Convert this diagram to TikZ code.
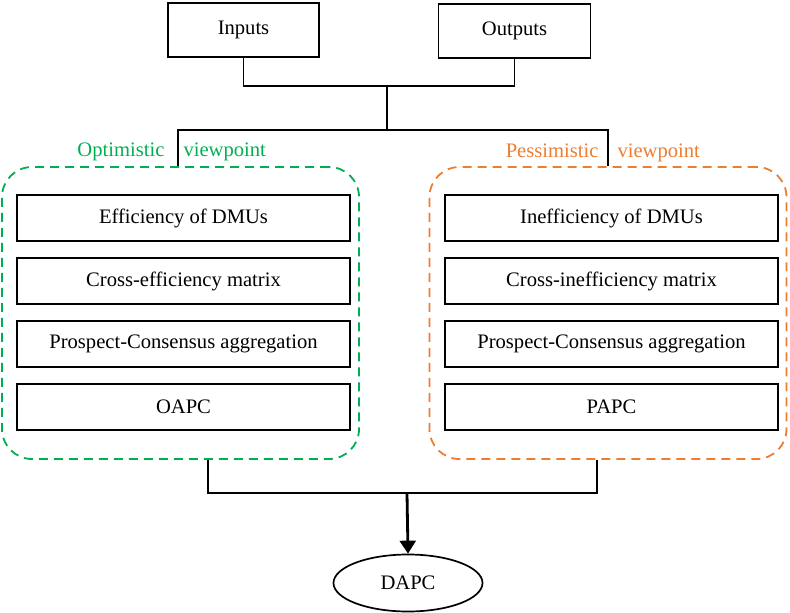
\documentclass[tikz,border=0pt]{standalone}
\usepackage{fontspec}
\setmainfont{Liberation Serif}
\usetikzlibrary{shapes.geometric,arrows.meta}
\definecolor{optgreen}{RGB}{0,176,80}
\definecolor{pesorange}{RGB}{237,125,49}
\tikzset{
	stepbox/.style={draw, line width=1.7pt, minimum width=333pt, minimum height=46pt, inner sep=0pt},
	viewbox/.style={draw, dash pattern=on 9pt off 6pt, line width=1.8pt, rounded corners=30pt,
		minimum width=357pt, minimum height=292pt, inner sep=0pt},
	link/.style={line width=1.7pt},
}
\begin{document}
\begin{tikzpicture}[x=1pt,y=-1pt,font=\fontsize{20.6}{24}\selectfont]
	\useasboundingbox (0,0) rectangle (790,613);
	% top
	\node[stepbox, minimum width=151pt, minimum height=54pt] (inputs) at (243.5,30) {Inputs};
	\node[stepbox, minimum width=152pt, minimum height=54pt] (outputs) at (514.5,31) {Outputs};
	% two viewpoints
	\node[viewbox, optgreen] (opt) at (180.5,313) {};
	\node[viewbox, pesorange] (pes) at (608,313) {};
	\foreach \t [count=\i] in {Efficiency of DMUs, Cross-efficiency matrix, Prospect-Consensus aggregation, OAPC}
		\node[stepbox] (opt\i) at (183.5,155+63*\i) {\t};
	\foreach \t [count=\i] in {Inefficiency of DMUs, Cross-inefficiency matrix, Prospect-Consensus aggregation, PAPC}
		\node[stepbox] (pes\i) at (611.5,155+63*\i) {\t};
	\node[optgreen, anchor=base east] (optlabel) at (168,156) {Optimistic};
	\node[optgreen, anchor=base west] (optview) at (180,156) {viewpoint};
	\node[pesorange, anchor=base east] (peslabel) at (602,157) {Pessimistic};
	\node[pesorange, anchor=base west] (pesview) at (614,157) {viewpoint};
	\node[draw, ellipse, line width=1.7pt, minimum width=149pt, minimum height=57pt] (dapc) at (408,583) {DAPC};
	% connectors
	\coordinate (j1) at (387,86);
	\coordinate (j2) at (387,130);
	\coordinate (tl) at (178,130);
	\coordinate (tr) at (608,130);
	\coordinate (bl) at (208,493);
	\coordinate (br) at (597,493);
	\coordinate (bm) at (407,493);
	\draw[link] (inputs.south) -- (inputs.south |- j1) -- (j1 -| outputs.south) -- (outputs.south);
	\draw[link] (j1) -- (j2);
	\draw[link] (tl |- opt.north) -- (tl) -- (tr) -- (tr |- pes.north);
	\draw[link] (bl |- opt.south) -- (bl) -- (br) -- (br |- pes.south);
	\draw[line width=2.8pt, -{Triangle[length=13pt,width=16pt]}] (bm) -- (dapc.north);
\end{tikzpicture}
\end{document}
